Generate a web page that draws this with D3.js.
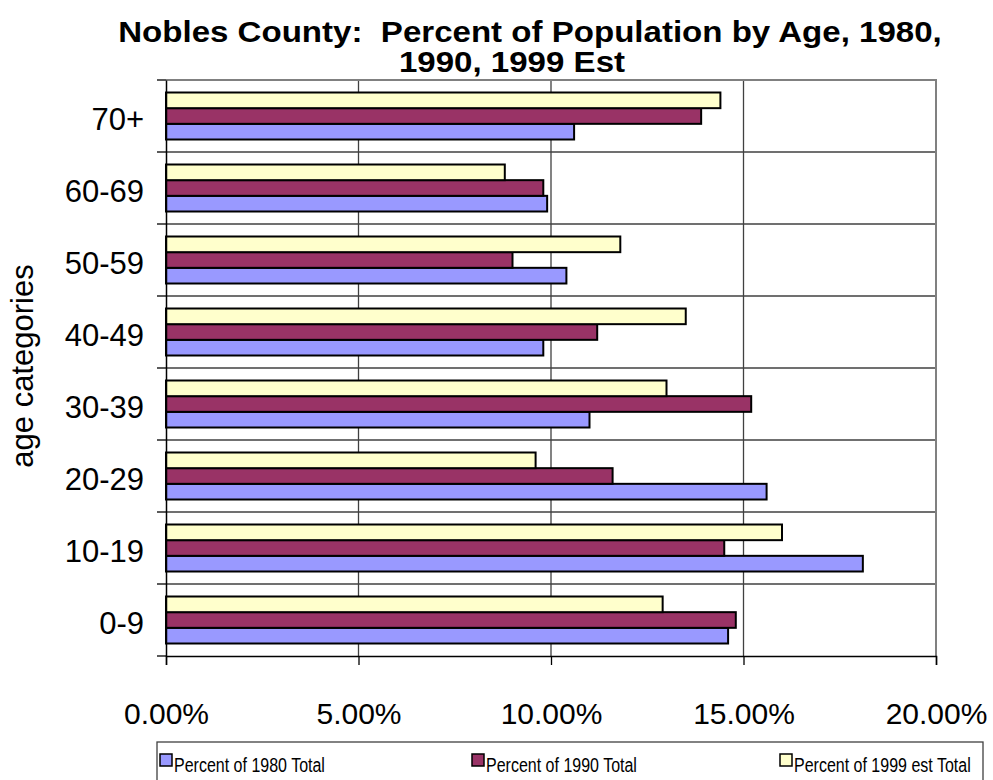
<!DOCTYPE html>
<html>
<head>
<meta charset="utf-8">
<script src="https://cdn.jsdelivr.net/npm/d3@7"></script>
<style>
body { margin: 0; background: #fff; }
text { font-family: "Liberation Sans", Arial, sans-serif; fill: #000; }
</style>
</head>
<body>
<svg id="viz" width="993" height="780"></svg>
<script>
// age groups, bottom to top as in the chart
var categories = ["0-9", "10-19", "20-29", "30-39", "40-49", "50-59", "60-69", "70+"];
var pct1980 = [14.6, 18.1, 15.6, 11.0, 9.8, 10.4, 9.9, 10.6];
var pct1990 = [14.8, 14.5, 11.6, 15.2, 11.2, 9.0, 9.8, 13.9];
var pct1999 = [12.9, 16.0, 9.6, 13.0, 13.5, 11.8, 8.8, 14.4];
var seriesNames = ["Percent of 1980 Total", "Percent of 1990 Total", "Percent of 1999 est Total"];
var seriesColors = ["#9999ff", "#993366", "#ffffcc"];
var xTicks = [0, 5, 10, 15, 20];

var PLOT = { left: 166, right: 936, top: 80, bottom: 656 };

// the original's text is a bit stretched / squeezed sideways
function stretch(sel, factor) {
    sel.each(function() {
        var len = this.getComputedTextLength();
        d3.select(this).attr("textLength", len * factor).attr("lengthAdjust", "spacingAndGlyphs");
    });
}

function draw() {
    var svg = d3.select("#viz");

    var x = d3.scaleLinear().domain([0, 20]).range([PLOT.left, PLOT.right]);
    var y = d3.scaleBand().domain(categories.slice().reverse()).range([PLOT.top, PLOT.bottom]);
    // inner band: 1999 on top, then 1990, then 1980
    var inner = d3.scaleBand().domain([2, 1, 0]).range([12.5, 59.5]);

    // gridlines
    svg.append("g").selectAll("line").data(xTicks.slice(1, 4)).enter().append("line")
        .attr("x1", function(d) { return x(d); }).attr("x2", function(d) { return x(d); })
        .attr("y1", PLOT.top).attr("y2", PLOT.bottom)
        .attr("stroke", "#404040").attr("stroke-width", 1.3);
    svg.append("g").selectAll("line").data(categories.slice(1)).enter().append("line")
        .attr("x1", PLOT.left).attr("x2", PLOT.right)
        .attr("y1", function(d) { return y(d) + y.bandwidth(); })
        .attr("y2", function(d) { return y(d) + y.bandwidth(); })
        .attr("stroke", "#404040").attr("stroke-width", 1.3);

    // plot border (top and right)
    svg.append("path")
        .attr("d", "M" + PLOT.left + "," + PLOT.top + "H" + PLOT.right + "V" + PLOT.bottom)
        .attr("fill", "none").attr("stroke", "#808080").attr("stroke-width", 2);

    // bars
    [pct1980, pct1990, pct1999].forEach(function(vals, si) {
        svg.append("g").selectAll("rect").data(vals).enter().append("rect")
            .attr("x", x(0))
            .attr("y", function(d, i) { return y(categories[i]) + inner(si); })
            .attr("width", function(d) { return x(d) - x(0); })
            .attr("height", inner.bandwidth())
            .attr("fill", seriesColors[si])
            .attr("stroke", "#000").attr("stroke-width", 2);
    });

    // y axis
    var yAxis = svg.append("g").attr("transform", "translate(" + PLOT.left + ",0)")
        .call(d3.axisLeft(y).tickSize(0).tickPadding(22));
    yAxis.select(".domain").attr("stroke", "#000").attr("stroke-width", 1.5);
    yAxis.selectAll("text").attr("font-size", 31).attr("dy", "0.45em")
        .attr("font-family", "Liberation Sans, Arial, sans-serif");
    svg.append("g").selectAll("line").data(d3.range(categories.length + 1)).enter().append("line")
        .attr("x1", PLOT.left - 9).attr("x2", PLOT.left)
        .attr("y1", function(d) { return PLOT.top + d * y.step(); })
        .attr("y2", function(d) { return PLOT.top + d * y.step(); })
        .attr("stroke", "#000").attr("stroke-width", 1.3);

    // x axis
    var xAxis = svg.append("g").attr("transform", "translate(0," + PLOT.bottom + ")")
        .call(d3.axisBottom(x).tickValues(xTicks).tickSize(9).tickPadding(38)
            .tickFormat(function(d) { return d.toFixed(2) + "%"; }));
    xAxis.select(".domain").attr("stroke", "#000").attr("stroke-width", 1.5);
    xAxis.selectAll(".tick line").attr("stroke", "#000").attr("stroke-width", 1.3);
    xAxis.selectAll("text").attr("font-size", 30).attr("font-family", "Liberation Sans, Arial, sans-serif");

    // title
    var t1 = svg.append("text").attr("x", 530).attr("y", 42).attr("text-anchor", "middle")
        .attr("font-size", 29).attr("font-weight", "bold").style("white-space", "pre")
        .text("Nobles County:  Percent of Population by Age, 1980,");
    var t2 = svg.append("text").attr("x", 512).attr("y", 72).attr("text-anchor", "middle")
        .attr("font-size", 29).attr("font-weight", "bold")
        .text("1990, 1999 Est");
    stretch(t1, 1.14);
    stretch(t2, 1.14);

    // y axis title
    svg.append("text").attr("transform", "translate(33,366) rotate(-90)")
        .attr("text-anchor", "middle").attr("font-size", 31)
        .text("age categories");

    // legend
    var legend = svg.append("g");
    legend.append("rect").attr("x", 157).attr("y", 742).attr("width", 826).attr("height", 45)
        .attr("fill", "#fff").attr("stroke", "#404040").attr("stroke-width", 1.3);
    var legX = [160, 472, 780];
    seriesNames.forEach(function(name, i) {
        legend.append("rect").attr("x", legX[i]).attr("y", 754).attr("width", 12).attr("height", 12)
            .attr("fill", seriesColors[i]).attr("stroke", "#000").attr("stroke-width", 1.5);
        var lt = legend.append("text").attr("x", legX[i] + 14).attr("y", 772)
            .attr("font-size", 20).text(name);
        stretch(lt, 0.8);
    });
}

draw();
</script>
</body>
</html>
